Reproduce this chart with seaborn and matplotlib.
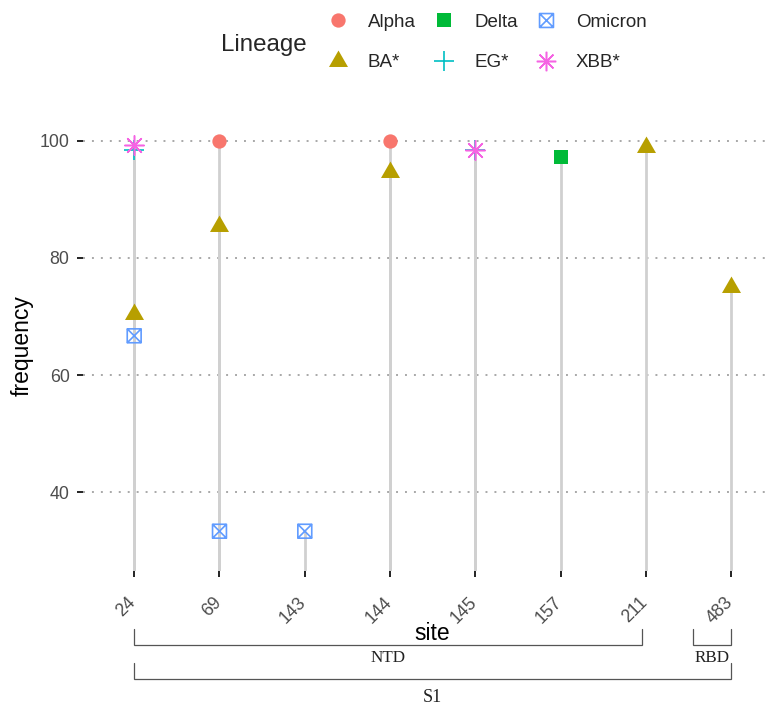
import matplotlib
matplotlib.use("Agg")
import matplotlib.pyplot as plt
from matplotlib.path import Path
from matplotlib.lines import Line2D
from matplotlib.transforms import ScaledTranslation, blended_transform_factory
import numpy as np
import pandas as pd
import seaborn as sns

# ---- data -------------------------------------------------------------
sites = ["24", "69", "143", "144", "145", "157", "211", "483"]
lineages = ["Alpha", "BA*", "Delta", "EG*", "Omicron", "XBB*"]

row_site = ["24", "24", "24", "24",
            "69", "69", "69",
            "143",
            "144", "144",
            "145", "145",
            "157",
            "211",
            "483"]
row_lineage = ["Omicron", "BA*", "EG*", "XBB*",
               "Alpha", "BA*", "Omicron",
               "Omicron",
               "Alpha", "BA*",
               "EG*", "XBB*",
               "Delta",
               "BA*",
               "BA*"]
row_frequency = [66.7, 70.5, 98.4, 99.3,
                 100.0, 85.5, 33.3,
                 33.3,
                 100.0, 94.7,
                 98.5, 98.5,
                 97.2,
                 99.0,
                 75.0]

stem_base = 0.0
y_ticks = [40, 60, 80, 100]

# domain brackets under the axis: (label, start position, end position, level)
bracket_labels = ["NTD", "RBD", "S1"]
bracket_start = [0.0, 6.55, 0.0]
bracket_end = [5.95, 7.0, 7.0]
bracket_level = [0, 0, 1]

df = pd.DataFrame({"site": row_site, "lineage": row_lineage,
                   "frequency": row_frequency})

# ---- marker styles ----------------------------------------------------
palette = {"Alpha": "#F8766D", "BA*": "#B79F00", "Delta": "#00BA38",
           "EG*": "#00BFC4", "Omicron": "#619CFF", "XBB*": "#F564E3"}

boxcross = Path([(-1, -1), (1, -1), (1, 1), (-1, 1), (-1, -1),
                 (-1, -1), (1, 1), (-1, 1), (1, -1)],
                [Path.MOVETO, Path.LINETO, Path.LINETO, Path.LINETO,
                 Path.CLOSEPOLY, Path.MOVETO, Path.LINETO, Path.MOVETO,
                 Path.LINETO])
triangle = Path([(0, 1), (-0.866, -0.5), (0.866, -0.5), (0, 1)],
                [Path.MOVETO, Path.LINETO, Path.LINETO, Path.CLOSEPOLY])

# marker, size (pt), filled, line width
style = {
    "Alpha":   ("o", 10.3, True, 0.0),
    "BA*":     (triangle, 15.8, True, 0.0),
    "Delta":   ("s", 10.3, True, 0.0),
    "EG*":     ("+", 15.0, False, 1.2),
    "Omicron": (boxcross, 10.0, "open", 1.2),
    "XBB*":    ((8, 2, 0), 14.0, False, 1.1),
}

# ---- figure -----------------------------------------------------------
sns.set_style("white")
plt.rcParams["font.family"] = ["Liberation Sans", "DejaVu Sans"]

W, H = 771, 707
fig = plt.figure(figsize=(W / 100, H / 100), dpi=100)
ax = fig.add_axes([83 / W, (H - 571) / H, 699.5 / W, 450.5 / H])

# stems: one segment per observation, rising from below the panel
ax.vlines(df["site"], stem_base, df["frequency"], color="#D0D0D0",
          linewidth=2.0, zorder=1)

draw_order = ["Omicron", "BA*", "EG*", "XBB*", "Alpha", "Delta"]
for lin in draw_order:
    sub = df[df["lineage"] == lin]
    marker, ms, filled, lw = style[lin]
    c = palette[lin]
    if filled is True:
        sns.scatterplot(data=sub, x="site", y="frequency", marker=marker,
                        s=ms ** 2, color=c, linewidth=0, ax=ax, zorder=3)
    elif filled == "open":
        sns.scatterplot(data=sub, x="site", y="frequency", marker=marker,
                        s=ms ** 2, facecolors="none", edgecolors=c,
                        linewidths=lw, ax=ax, zorder=3)
    else:
        sns.scatterplot(data=sub, x="site", y="frequency", marker=marker,
                        s=ms ** 2, color=c, linewidths=lw, ax=ax, zorder=3)

ax.set_xlim(-0.6, len(sites) - 0.4)
ax.set_ylim(26.5, 103.5)
ax.set_yticks(y_ticks)
for v in y_ticks:
    ax.axhline(v, color="#A8A8A8", linewidth=1.4, linestyle=(0, (1, 3.6)),
               zorder=0)

for s in ax.spines.values():
    s.set_visible(False)

ax.tick_params(axis="both", which="major", length=4.2, width=1.4,
               color="#222222", labelcolor="#4D4D4D", labelsize=12.8,
               bottom=True, left=True, direction="out")
ax.tick_params(axis="x", pad=12.0)
ax.tick_params(axis="y", pad=5.5)

for lbl in ax.get_xticklabels():
    lbl.set_rotation(45)
    lbl.set_ha("right")
    lbl.set_va("top")
    lbl.set_transform(lbl.get_transform() +
                      ScaledTranslation(0.05, 0, fig.dpi_scale_trans))

ax.set_ylabel("frequency", fontsize=16.5, color="black")
ax.yaxis.set_label_coords((34 - 83) / 699.5, 0.5)
ax.set_xlabel("site", fontsize=16.5, color="black")
ax.xaxis.set_label_coords((432 - 83) / 699.5, -(622 - 571) / 450.5)

# ---- domain brackets --------------------------------------------------
btr = blended_transform_factory(ax.transData, fig.transFigure)
level_top = [629, 663]
level_bottom = [645, 679]
text_y = [658, 698]
for lab, x0, x1, lv in zip(bracket_labels, bracket_start, bracket_end,
                           bracket_level):
    top = 1 - level_top[lv] / H
    bot = 1 - level_bottom[lv] / H
    ax.plot([x0, x0, x1, x1], [top, bot, bot, top], color="#555555",
            linewidth=0.9, transform=btr, clip_on=False,
            solid_joinstyle="miter")
    ax.text((x0 + x1) / 2, 1 - text_y[lv] / H, lab, transform=btr,
            ha="center", va="center", fontsize=13 if lab == "S1" else 12.3,
            family=["Liberation Serif", "DejaVu Serif"], color="#222222")

# ---- legend -----------------------------------------------------------
handles = []
for lin in lineages:
    marker, ms, filled, lw = style[lin]
    c = palette[lin]
    if filled is True:
        h = Line2D([], [], linestyle="none", marker=marker, markersize=ms,
                   markerfacecolor=c, markeredgewidth=0)
    elif filled == "open":
        h = Line2D([], [], linestyle="none", marker=marker, markersize=ms,
                   markerfacecolor="none", markeredgecolor=c,
                   markeredgewidth=lw)
    else:
        h = Line2D([], [], linestyle="none", marker=marker, markersize=ms,
                   color=c, markeredgewidth=lw)
    handles.append(h)

fig.legend(handles, lineages, ncol=3, loc="center left",
           bbox_to_anchor=(328.6 / W, 1 - 42.5 / H), frameon=False,
           fontsize=13.5, handlelength=1.0, handletextpad=1.1,
           columnspacing=1.0, labelspacing=1.25, borderpad=0,
           borderaxespad=0)
fig.text(221 / W, 1 - 45 / H, "Lineage", ha="left", va="center",
         fontsize=17.4)

fig.savefig("out.png", dpi=100, facecolor="white")
